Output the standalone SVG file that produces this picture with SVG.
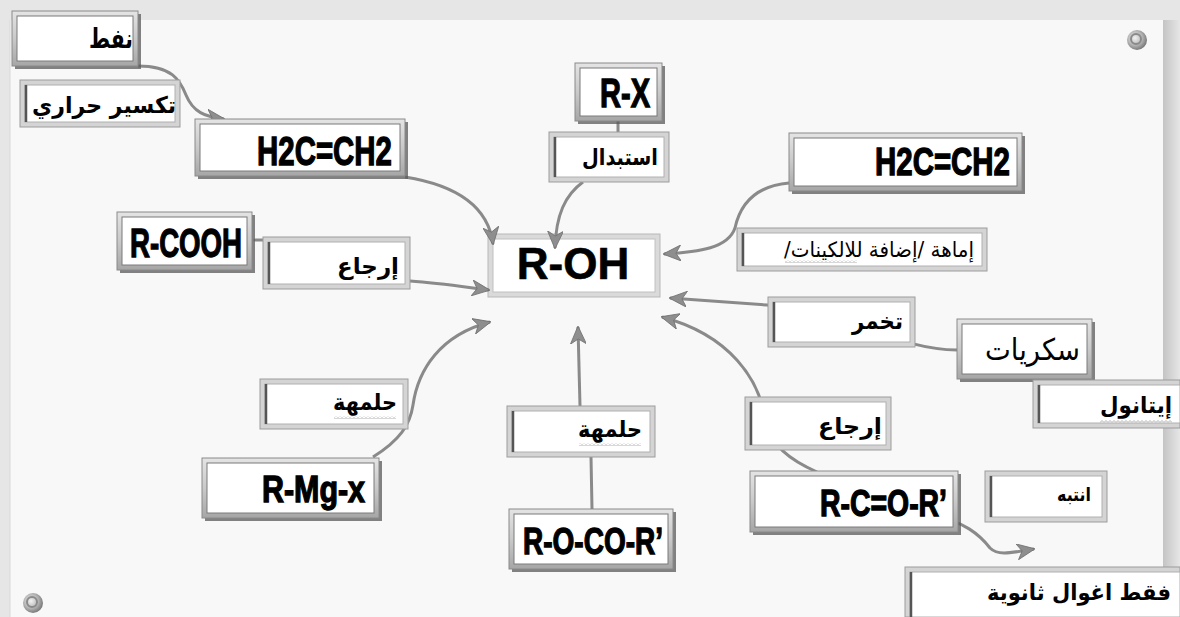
<svg xmlns="http://www.w3.org/2000/svg" width="1180" height="617" viewBox="0 0 1180 617">
<defs>
<linearGradient id="bev" x1="0" y1="0" x2="0" y2="1">
<stop offset="0" stop-color="#e4e4e4"/><stop offset="0.5" stop-color="#c9c9c9"/><stop offset="1" stop-color="#a6a6a6"/>
</linearGradient>
<linearGradient id="rightEdge" x1="0" y1="0" x2="1" y2="0">
<stop offset="0" stop-color="#c4c4c4"/><stop offset="1" stop-color="#e6e6e6"/>
</linearGradient>
<radialGradient id="pin" cx="0.4" cy="0.4" r="0.6">
<stop offset="0" stop-color="#f2f2f2"/><stop offset="0.6" stop-color="#b5b5b5"/><stop offset="1" stop-color="#7d7d7d"/>
</radialGradient>
<pattern id="wave" width="4" height="3" patternUnits="userSpaceOnUse">
<path d="M0 2.5 L2 0.5 L4 2.5" fill="none" stroke="#9a9a9a" stroke-width="0.8"/>
</pattern>
<marker id="ah" viewBox="0 0 18 16" refX="17" refY="8" markerWidth="18" markerHeight="16" markerUnits="userSpaceOnUse" orient="auto">
<path d="M0,0 L18,8 L0,16 L5,8 z" fill="#8e8e8e" stroke="#6f6f6f" stroke-width="0.8"/>
</marker>
<style>
.sh{fill:#5a5a5a;opacity:0.75}
.fr{fill:url(#bev);stroke:#8a8a8a;stroke-width:1}
.in{fill:#fff;stroke:#7a7a7a;stroke-width:1}
.lfr{fill:#d4d4d4;stroke:#9c9c9c;stroke-width:1}
.lin{fill:#fff;stroke:#b0b0b0;stroke-width:1}
.lline{stroke:#555;stroke-width:2.5}
.ofr{fill:#dadada;stroke:#b8b8b8;stroke-width:1}
.f{font-family:"Liberation Sans Narrow","Liberation Sans",Arial,sans-serif;font-weight:bold;fill:#000;stroke:#000;stroke-width:1.3}
.ar{font-family:"DejaVu Sans",sans-serif;font-weight:bold;fill:#000}
.arr{font-family:"DejaVu Sans",sans-serif;fill:#000}
.c{fill:none;stroke:#8a8a8a;stroke-width:3;stroke-linecap:round}
.ca{fill:none;stroke:#8a8a8a;stroke-width:3;marker-end:url(#ah)}
.w{fill:url(#wave)}
</style>
</defs>

<!-- background board -->
<rect x="0" y="0" width="1180" height="617" fill="#e6e6e6"/>
<rect x="10" y="20" width="1153" height="597" fill="#f8f8f8"/>
<rect x="1163" y="20" width="17" height="597" fill="url(#rightEdge)"/>
<line x1="10" y1="20" x2="10" y2="617" stroke="#d8d8d8" stroke-width="1"/>
<circle cx="1137" cy="40" r="10" fill="url(#pin)"/>
<circle cx="1136" cy="39" r="5" fill="none" stroke="#8a8a8a" stroke-width="2"/>
<circle cx="33" cy="603" r="10" fill="url(#pin)"/>
<circle cx="32" cy="602" r="5" fill="none" stroke="#8a8a8a" stroke-width="2"/>

<g id="n-roh">
<rect class="ofr" x="488" y="234" width="172" height="63"/>
<rect class="in" x="493" y="239" width="162" height="53" style="stroke:#c0c0c0"/>
<text x="573" y="279" font-size="44" font-family="Liberation Sans, Arial, sans-serif" font-weight="bold" text-anchor="middle" stroke="#000" stroke-width="0.6">R-OH</text>
</g>

<g id="connectors">
<path class="ca" d="M 138 66 C 172 66, 180 80, 186 95 C 193 112, 205 117, 224 119"/>
<path class="ca" d="M 405 177 C 455 185, 488 205, 493 244"/>
<path class="c" d="M 618 121 L 618 133"/>
<path class="ca" d="M 583 182 C 565 195, 556 215, 555 248"/>
<path class="ca" d="M 789 183 C 755 186, 740 205, 735 228 C 728 248, 700 252, 664 254"/>
<path class="c" d="M 255 240 L 263 240"/>
<path class="ca" d="M 410 281 C 440 283, 465 287, 489 290"/>
<path class="ca" d="M 373 457 C 400 440, 410 425, 413 405 C 418 370, 440 335, 490 322"/>
<path class="ca" d="M 580 406 L 578 327"/>
<path class="c" d="M 592 509 L 591 457"/>
<path class="ca" d="M 957 350 C 900 350, 830 310, 767 305 L 670 298"/>
<path class="ca" d="M 817 472 C 790 460, 770 445, 765 420 C 760 380, 730 335, 662 317"/>
<path class="ca" d="M 937 518 C 962 520, 980 535, 990 548 C 998 556, 1010 553, 1034 549"/>
</g>

<g id="n-naft">
<rect class="sh" x="15" y="14" width="126" height="55"/>
<rect class="fr" x="12" y="11" width="126" height="55"/>
<rect class="in" x="17" y="16" width="116" height="45"/>
<text class="ar" x="133" y="48" font-size="27" direction="rtl" text-anchor="start" textLength="44" lengthAdjust="spacingAndGlyphs">نفط</text>
</g>

<g id="n-taksir">
<rect class="lfr" x="20" y="80" width="160" height="47"/>
<rect class="lin" x="25" y="85" width="150" height="37"/>
<line class="lline" x1="26" y1="85" x2="26" y2="122"/>
<text class="ar" x="176" y="113" font-size="23" direction="rtl" text-anchor="start" textLength="144" lengthAdjust="spacingAndGlyphs">تكسير حراري</text>
</g>

<g id="n-ethene-left">
<rect class="sh" x="198" y="122" width="210" height="57"/>
<rect class="fr" x="195" y="119" width="210" height="57"/>
<rect class="in" x="200" y="124" width="200" height="47"/>
<text class="f" x="392" y="165" font-size="41" text-anchor="end" textLength="135" lengthAdjust="spacingAndGlyphs">H2C=CH2</text>
</g>

<g id="n-rx">
<rect class="sh" x="578" y="66" width="87" height="58"/>
<rect class="fr" x="575" y="63" width="87" height="58"/>
<rect class="in" x="580" y="68" width="77" height="48"/>
<text class="f" x="650" y="107" font-size="41" text-anchor="end" textLength="50" lengthAdjust="spacingAndGlyphs">R-X</text>
</g>

<g id="n-istibdal">
<rect class="lfr" x="549" y="132" width="120" height="50"/>
<rect class="lin" x="554" y="137" width="110" height="40"/>
<line class="lline" x1="555" y1="137" x2="555" y2="177"/>
<text class="ar" x="658" y="165" font-size="23" direction="rtl" text-anchor="start" textLength="76" lengthAdjust="spacingAndGlyphs">استبدال</text>
</g>

<g id="n-ethene-right">
<rect class="sh" x="792" y="136" width="233" height="58"/>
<rect class="fr" x="789" y="133" width="233" height="58"/>
<rect class="in" x="794" y="138" width="223" height="48"/>
<text class="f" x="1010" y="175" font-size="39" text-anchor="end" textLength="135" lengthAdjust="spacingAndGlyphs">H2C=CH2</text>
</g>

<g id="n-imaha">
<rect class="lfr" x="737" y="228" width="250" height="43"/>
<rect class="lin" x="742" y="233" width="240" height="33"/>
<line class="lline" x1="743" y1="233" x2="743" y2="266"/>
<text class="arr" x="974" y="257" font-size="21" direction="rtl" text-anchor="start" textLength="190" lengthAdjust="spacingAndGlyphs">إماهة /إضافة للالكينات/</text>
<rect class="w" x="785" y="260" width="72" height="3"/>
</g>

<g id="n-rcooh">
<rect class="sh" x="120" y="215" width="135" height="58"/>
<rect class="fr" x="117" y="212" width="135" height="58"/>
<rect class="in" x="122" y="217" width="125" height="48"/>
<text class="f" x="242" y="257" font-size="41" text-anchor="end" textLength="112" lengthAdjust="spacingAndGlyphs">R-COOH</text>
</g>

<g id="n-irjaa-left">
<rect class="lfr" x="263" y="237" width="147" height="52"/>
<rect class="lin" x="268" y="242" width="137" height="42"/>
<line class="lline" x1="269" y1="242" x2="269" y2="284"/>
<text class="ar" x="399" y="274" font-size="23" direction="rtl" text-anchor="start" textLength="62" lengthAdjust="spacingAndGlyphs">إرجاع</text>
</g>

<g id="n-halmaha-left">
<rect class="lfr" x="260" y="379" width="148" height="50"/>
<rect class="lin" x="265" y="384" width="138" height="40"/>
<line class="lline" x1="266" y1="384" x2="266" y2="424"/>
<text class="ar" x="397" y="410" font-size="23" direction="rtl" text-anchor="start" textLength="64" lengthAdjust="spacingAndGlyphs">حلمهة</text>
<rect class="w" x="334" y="416" width="62" height="3"/>
</g>

<g id="n-rmgx">
<rect class="sh" x="205" y="461" width="177" height="60"/>
<rect class="fr" x="202" y="458" width="177" height="60"/>
<rect class="in" x="207" y="463" width="167" height="50"/>
<text class="f" x="365" y="502" font-size="36" text-anchor="end" textLength="103" lengthAdjust="spacingAndGlyphs">R-Mg-x</text>
</g>

<g id="n-halmaha-mid">
<rect class="lfr" x="507" y="406" width="148" height="51"/>
<rect class="lin" x="512" y="411" width="138" height="41"/>
<line class="lline" x1="513" y1="411" x2="513" y2="452"/>
<text class="ar" x="642" y="437" font-size="23" direction="rtl" text-anchor="start" textLength="64" lengthAdjust="spacingAndGlyphs">حلمهة</text>
<rect class="w" x="579" y="443" width="62" height="3"/>
</g>

<g id="n-ester">
<rect class="sh" x="512" y="512" width="164" height="60"/>
<rect class="fr" x="509" y="509" width="164" height="60"/>
<rect class="in" x="514" y="514" width="154" height="50"/>
<text class="f" x="663" y="554" font-size="37" text-anchor="end" textLength="140" lengthAdjust="spacingAndGlyphs">R-O-CO-R’</text>
</g>

<g id="n-takhammur">
<rect class="lfr" x="768" y="297" width="147" height="50"/>
<rect class="lin" x="773" y="302" width="137" height="40"/>
<line class="lline" x1="774" y1="302" x2="774" y2="342"/>
<text class="ar" x="903" y="329" font-size="23" direction="rtl" text-anchor="start" textLength="51" lengthAdjust="spacingAndGlyphs">تخمر</text>
</g>

<g id="n-sukkariyat">
<rect class="sh" x="960" y="322" width="135" height="60"/>
<rect class="fr" x="957" y="319" width="135" height="60"/>
<rect class="in" x="962" y="324" width="125" height="50"/>
<text class="arr" x="1080" y="360" font-size="30" direction="rtl" text-anchor="start" textLength="95" lengthAdjust="spacingAndGlyphs">سكريات</text>
</g>

<g id="n-ethanol">
<rect class="lfr" x="1033" y="380" width="147" height="48"/>
<rect class="lin" x="1038" y="385" width="142" height="38"/>
<line class="lline" x1="1039" y1="385" x2="1039" y2="423"/>
<text class="ar" x="1172" y="413" font-size="23" direction="rtl" text-anchor="start" textLength="72" lengthAdjust="spacingAndGlyphs">إيتانول</text>
<rect class="w" x="1100" y="420" width="72" height="3"/>
</g>

<g id="n-irjaa-right">
<rect class="lfr" x="745" y="397" width="146" height="53"/>
<rect class="lin" x="750" y="402" width="136" height="43"/>
<line class="lline" x1="751" y1="402" x2="751" y2="445"/>
<text class="ar" x="882" y="434" font-size="23" direction="rtl" text-anchor="start" textLength="64" lengthAdjust="spacingAndGlyphs">إرجاع</text>
</g>

<g id="n-ketone">
<rect class="sh" x="753" y="474" width="208" height="61"/>
<rect class="fr" x="750" y="471" width="208" height="61"/>
<rect class="in" x="755" y="476" width="198" height="51"/>
<text class="f" x="947" y="516" font-size="37" text-anchor="end" textLength="127" lengthAdjust="spacingAndGlyphs">R-C=O-R’</text>
</g>

<g id="n-intabih">
<rect class="lfr" x="985" y="471" width="122" height="51"/>
<rect class="lin" x="990" y="476" width="112" height="41"/>
<line class="lline" x1="991" y1="476" x2="991" y2="517"/>
<text class="ar" x="1091" y="501" font-size="19" direction="rtl" text-anchor="start" textLength="34" lengthAdjust="spacingAndGlyphs">انتبه</text>
</g>

<g id="n-secondary">
<rect class="lfr" x="905" y="567" width="275" height="50"/>
<rect class="lin" x="910" y="572" width="270" height="45"/>
<line class="lline" x1="911" y1="572" x2="911" y2="617"/>
<text class="ar" x="1171" y="600" font-size="22" direction="rtl" text-anchor="start" textLength="184" lengthAdjust="spacingAndGlyphs">فقط اغوال ثانوية</text>
</g>
</svg>
